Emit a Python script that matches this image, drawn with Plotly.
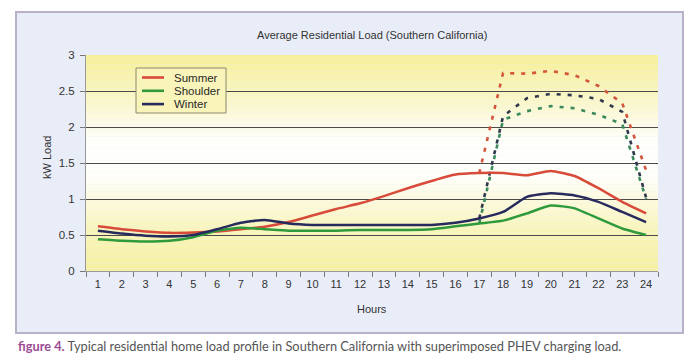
import plotly.graph_objects as go

# ---------------- data ----------------
hours = [str(h) for h in range(1, 25)]
summer = [0.62, 0.58, 0.55, 0.53, 0.535, 0.55, 0.58, 0.615, 0.68, 0.77, 0.86, 0.94,
          1.04, 1.15, 1.25, 1.34, 1.36, 1.36, 1.33, 1.39, 1.32, 1.15, 0.96, 0.80]
shoulder = [0.44, 0.42, 0.41, 0.42, 0.47, 0.56, 0.60, 0.58, 0.56, 0.56, 0.56, 0.57,
            0.57, 0.57, 0.58, 0.62, 0.66, 0.70, 0.80, 0.91, 0.87, 0.73, 0.59, 0.50]
winter = [0.56, 0.52, 0.49, 0.48, 0.50, 0.58, 0.67, 0.71, 0.66, 0.64, 0.64, 0.64,
          0.64, 0.64, 0.64, 0.67, 0.73, 0.82, 1.03, 1.08, 1.05, 0.96, 0.82, 0.68]

phev_hours = [str(h) for h in range(17, 25)]
summer_phev = [1.36, 2.75, 2.74, 2.78, 2.72, 2.57, 2.33, 1.40]
winter_phev = [0.73, 2.15, 2.40, 2.46, 2.44, 2.39, 2.21, 1.02]
shoulder_phev = [0.66, 2.10, 2.22, 2.29, 2.26, 2.17, 2.04, 1.00]

series_names = ["Summer", "Shoulder", "Winter"]
colors = {"Summer": "#d84a3a", "Shoulder": "#2f9a3c", "Winter": "#262a5c"}
dot_colors = {"Summer": "#d2553c", "Shoulder": "#3a8a5c", "Winter": "#30384c"}

title_text = "Average Residential Load (Southern California)"
caption_lead = "figure 4."
caption_text = " Typical residential home load profile in Southern California with superimposed PHEV charging load."

# ---------------- figure ----------------
fig = go.Figure()

for name, vals in [("Summer", summer_phev), ("Winter", winter_phev), ("Shoulder", shoulder_phev)]:
    fig.add_trace(go.Scatter(x=phev_hours, y=vals, mode="lines", showlegend=False,
                             line=dict(color=dot_colors[name], width=2.6, dash="4px,7px"),
                             hoverinfo="skip"))

for name, vals in [("Summer", summer), ("Shoulder", shoulder), ("Winter", winter)]:
    fig.add_trace(go.Scatter(x=hours, y=vals, mode="lines", name=name, showlegend=False,
                             line=dict(color=colors[name], width=2.5, shape="spline", smoothing=0.5)))

# page has an 8px body margin: figure occupies window pixels 8..700 / 8..360
OFF = 8
W, H = 700 - OFF, 360 - OFF
PLOT_L, PLOT_R, PLOT_T, PLOT_B = 86, 658, 55, 271   # in window pixels
pw, ph = PLOT_R - PLOT_L, PLOT_B - PLOT_T


def px_x(p):
    return (p - PLOT_L) / pw


def px_y(p):
    return (PLOT_B - p) / ph


shapes = []
# outer panel
shapes.append(dict(type="rect", xref="paper", yref="paper", layer="below",
                   x0=px_x(16), x1=px_x(683), y0=px_y(333), y1=px_y(12),
                   fillcolor="#e9edf8", line=dict(color="#b9b0c9", width=2)))

# background gradient of plot area
stops = [(0.0, (246, 240, 162)), (0.5, (248, 244, 182)), (1.0, (252, 250, 222)),
         (1.3, (255, 255, 250)), (1.8, (255, 255, 252)), (2.1, (252, 250, 225)),
         (2.5, (249, 245, 190)), (3.0, (246, 239, 150))]


def grad(v):
    for (a, ca), (b, cb) in zip(stops[:-1], stops[1:]):
        if a <= v <= b:
            t = (v - a) / (b - a)
            return "rgb(%d,%d,%d)" % tuple(round(ca[i] + (cb[i] - ca[i]) * t) for i in range(3))
    return "rgb(%d,%d,%d)" % stops[-1][1]


n = 90
for i in range(n):
    y0 = 3.0 * i / n
    y1 = 3.0 * (i + 1) / n
    shapes.append(dict(type="rect", xref="x domain", yref="y", layer="below",
                       x0=0, x1=1, y0=y0, y1=y1 + 0.002,
                       fillcolor=grad((y0 + y1) / 2), line=dict(width=0)))

# legend box (manual)
shapes.append(dict(type="rect", xref="paper", yref="paper",
                   x0=px_x(136), x1=px_x(226), y0=px_y(113), y1=px_y(68),
                   line=dict(color="#8c8a70", width=1), fillcolor=grad(2.55)))
annotations = []
for i, name in enumerate(series_names):
    yy = 77.5 + i * 13.3
    shapes.append(dict(type="line", xref="paper", yref="paper",
                       x0=px_x(142), x1=px_x(164), y0=px_y(yy), y1=px_y(yy),
                       line=dict(color=colors[name], width=2.6)))
    annotations.append(dict(text=name, xref="paper", yref="paper", x=px_x(172), y=px_y(yy),
                            xanchor="left", yanchor="middle", showarrow=False,
                            font=dict(family="Liberation Sans", size=11.5, color="#2a2a2a")))

annotations.append(dict(text=title_text, xref="paper", yref="paper", x=0.5, y=px_y(35),
                        xanchor="center", yanchor="middle", showarrow=False,
                        font=dict(family="Liberation Sans", size=11, color="#333")))
annotations.append(dict(text="kW Load", xref="paper", yref="paper", x=px_x(47), y=px_y(158),
                        xanchor="center", yanchor="middle", textangle=-90, showarrow=False,
                        font=dict(family="Liberation Sans", size=11, color="#333")))
annotations.append(dict(text="Hours", xref="paper", yref="paper", x=0.5, y=px_y(309),
                        xanchor="center", yanchor="middle", showarrow=False,
                        font=dict(family="Liberation Sans", size=11, color="#333")))
annotations.append(dict(text="<b><span style='color:#9c4c95'>" + caption_lead + "</span></b>" + caption_text,
                        xref="paper", yref="paper", x=px_x(16), y=px_y(346),
                        xanchor="left", yanchor="middle", showarrow=False,
                        font=dict(family="Lato", size=12.8, color="#555")))

fig.update_layout(
    width=W, height=H,
    margin=dict(l=PLOT_L - OFF, r=W - (PLOT_R - OFF), t=PLOT_T - OFF, b=H - (PLOT_B - OFF), pad=0),
    paper_bgcolor="white", plot_bgcolor="rgba(0,0,0,0)",
    showlegend=False,
    shapes=shapes, annotations=annotations,
    font=dict(family="Liberation Sans", color="#333"),
)
fig.update_xaxes(type="category", categoryorder="array", categoryarray=hours,
                 range=[-0.5, len(hours) - 0.5],
                 tickson="boundaries", ticks="outside", ticklen=5, tickcolor="#777",
                 showline=True, linecolor="#999", linewidth=1, showgrid=False,
                 tickfont=dict(size=11, color="#333"), ticklabelstandoff=3, fixedrange=True)
fig.update_yaxes(range=[0, 3], tickvals=[0, 0.5, 1, 1.5, 2, 2.5, 3],
                 ticktext=["0", "0.5", "1", "1.5", "2", "2.5", "3"],
                 showgrid=True, gridcolor="#4a4a4a", gridwidth=1, zeroline=False,
                 ticks="outside", ticklen=5, tickcolor="#777",
                 showline=True, linecolor="#999", linewidth=1,
                 tickfont=dict(size=11.5, color="#333"), ticklabelstandoff=3, fixedrange=True)

fig.write_html("out.html")
